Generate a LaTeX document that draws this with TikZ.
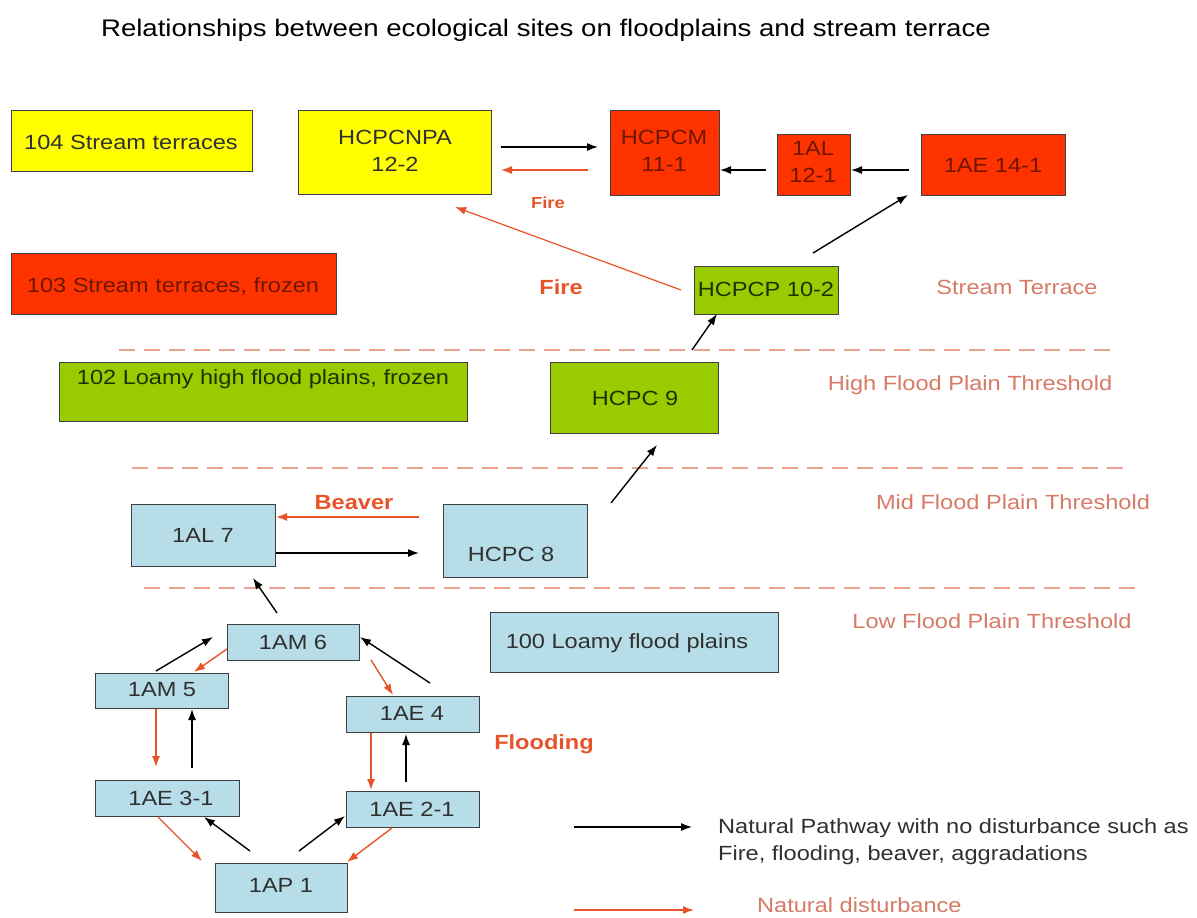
\documentclass[tikz,border=0pt]{standalone}
\usepackage{fontspec}
\setmainfont{Liberation Sans}[FakeStretch=1.15]
\usetikzlibrary{arrows.meta}
\definecolor{cyel}{HTML}{FFFF00}
\definecolor{cred}{HTML}{FF3300}
\definecolor{cgrn}{HTML}{99CC00}
\definecolor{cblu}{HTML}{B7DDE8}
\definecolor{boxline}{HTML}{3F3F3F}
\definecolor{arrred}{HTML}{E8542A}
\definecolor{salmon}{HTML}{EBA291}
\definecolor{thtxt}{HTML}{D77A66}
\definecolor{redtxt}{HTML}{6E1600}
\definecolor{grntxt}{HTML}{1E3200}
\definecolor{dtxt}{HTML}{303030}
\begin{document}
\begin{tikzpicture}[x=1pt,y=-1pt,
  box/.style={draw=boxline, line width=1.3pt, inner sep=0pt, anchor=north west},
  txt/.style={font=\fontsize{20.5}{25}\selectfont, inner sep=0pt, text height=14.6pt, text depth=0pt},
  txtii/.style={font=\fontsize{20.5}{26.5}\selectfont, inner sep=0pt, align=center},
  thr/.style={txt, text=thtxt},
  lbl/.style={font=\bfseries\fontsize{20.5}{25}\selectfont, inner sep=0pt, text height=14.6pt, text depth=0pt, text=arrred},
  blk/.style={draw=black, line width=1.4pt, -{Latex[length=11pt,width=8pt]}},
  rd/.style={draw=arrred, line width=1.4pt, -{Latex[length=11pt,width=8pt]}},
  thline/.style={draw=salmon, line width=2.2pt, dash pattern=on 16pt off 9pt}
]
\useasboundingbox (0,0) rectangle (1197,918);
\fill[white] (0,0) rectangle (1197,918);

% title
\node[txt, font=\fontsize{24}{28}\selectfont, text height=17pt] (title) at (546,28) {Relationships between ecological sites on floodplains and stream terrace};

% dashed thresholds
\coordinate (d1a) at (119,350); \coordinate (d1b) at (1112,350);
\coordinate (d2a) at (132,468); \coordinate (d2b) at (1126,468);
\coordinate (d3a) at (144,588); \coordinate (d3b) at (1137,588);
\draw[thline] (d1a) -- (d1b);
\draw[thline] (d2a) -- (d2b);
\draw[thline] (d3a) -- (d3b);

% boxes
\node[box, fill=cyel, minimum width=241pt, minimum height=61pt] (b104) at (11,110) {};
\node[box, fill=cyel, minimum width=193pt, minimum height=84pt] (cnpa) at (298,110) {};
\node[box, fill=cred, minimum width=109pt, minimum height=85pt] (cm) at (610,110) {};
\node[box, fill=cred, minimum width=73pt, minimum height=61pt] (al12) at (777,134) {};
\node[box, fill=cred, minimum width=144pt, minimum height=61pt] (ae14) at (921,134) {};
\node[box, fill=cred, minimum width=325pt, minimum height=61pt] (b103) at (11,253) {};
\node[box, fill=cgrn, minimum width=144pt, minimum height=48pt] (cp) at (694,266) {};
\node[box, fill=cgrn, minimum width=408pt, minimum height=59pt] (b102) at (59,362) {};
\node[box, fill=cgrn, minimum width=168pt, minimum height=71pt] (c9) at (550,362) {};
\node[box, fill=cblu, minimum width=144pt, minimum height=62pt] (al7) at (131,504) {};
\node[box, fill=cblu, minimum width=144pt, minimum height=73pt] (c8) at (443,504) {};
\node[box, fill=cblu, minimum width=288pt, minimum height=60pt] (b100) at (490,612) {};
\node[box, fill=cblu, minimum width=132pt, minimum height=36pt] (am6) at (227,624) {};
\node[box, fill=cblu, minimum width=133pt, minimum height=35pt] (am5) at (95,673) {};
\node[box, fill=cblu, minimum width=133pt, minimum height=36pt] (ae4) at (346,696) {};
\node[box, fill=cblu, minimum width=144pt, minimum height=36pt] (ae31) at (95,780) {};
\node[box, fill=cblu, minimum width=133pt, minimum height=36pt] (ae21) at (346,791) {};
\node[box, fill=cblu, minimum width=132pt, minimum height=49pt] (ap1) at (215,863) {};

% box texts
\node[txt, text=dtxt] (t104) at (131,142) {104 Stream terraces};
\node[txtii, text=dtxt] (tcnpa) at (395,151) {HCPCNPA\\12-2};
\node[txtii, text=redtxt] (tcm) at (664,151) {HCPCM\\11-1};
\node[txtii, text=redtxt] (tal12) at (813,162) {1AL\\12-1};
\node[txt, text=redtxt] (tae14) at (993,165) {1AE 14-1};
\node[txt, text=redtxt] (t103) at (173,285) {103 Stream terraces, frozen};
\node[txt, text=grntxt] (tcp) at (766,289) {HCPCP 10-2};
\node[txt, text=grntxt] (t102) at (263,377) {102 Loamy high flood plains, frozen};
\node[txt, text=grntxt] (tc9) at (635,398) {HCPC 9};
\node[txt, text=dtxt] (tal7) at (203,535) {1AL 7};
\node[txt, text=dtxt] (tc8) at (511,554) {HCPC 8};
\node[txt, text=dtxt] (t100) at (627,641) {100 Loamy flood plains};
\node[txt, text=dtxt] (tam6) at (293,642) {1AM 6};
\node[txt, text=dtxt] (tam5) at (162,689) {1AM 5};
\node[txt, text=dtxt] (tae4) at (412,713) {1AE 4};
\node[txt, text=dtxt] (tae31) at (171,798) {1AE 3-1};
\node[txt, text=dtxt] (tae21) at (412,809) {1AE 2-1};
\node[txt, text=dtxt] (tap1) at (281,885) {1AP 1};

% labels
\node[lbl, font=\bfseries\fontsize{16}{20}\selectfont, text height=11.5pt] (fire1) at (548,203) {Fire};
\node[lbl] (fire2) at (561,287) {Fire};
\node[lbl] (beaver) at (354,502) {Beaver};
\node[lbl] (flood) at (544,742) {Flooding};
\node[thr] (lst) at (1017,287) {Stream Terrace};
\node[thr] (lhi) at (970,383) {High Flood Plain Threshold};
\node[thr] (lmid) at (1013,502) {Mid Flood Plain Threshold};
\node[thr] (llow) at (992,621) {Low Flood Plain Threshold};

% arrow end points
\coordinate (a1s) at (501,147); \coordinate (a1e) at (598,147);
\coordinate (a2s) at (588,170); \coordinate (a2e) at (501,170);
\coordinate (a3s) at (766,170); \coordinate (a3e) at (720,170);
\coordinate (a4s) at (909,170); \coordinate (a4e) at (851,170);
\coordinate (a5s) at (813,253); \coordinate (a5e) at (908,195);
\coordinate (a6s) at (681,290); \coordinate (a6e) at (455,207);
\coordinate (a7s) at (692,350); \coordinate (a7e) at (717,314);
\coordinate (a8s) at (611,503); \coordinate (a8e) at (657,445);
\coordinate (a9s) at (276,553); \coordinate (a9e) at (419,553);
\coordinate (a10s) at (419,517); \coordinate (a10e) at (276,517);
\coordinate (a11s) at (277,613); \coordinate (a11e) at (253,578);
\coordinate (a12s) at (156,671); \coordinate (a12e) at (213,637);
\coordinate (a13s) at (227,649); \coordinate (a13e) at (194,672);
\coordinate (a14s) at (371,660); \coordinate (a14e) at (393,695);
\coordinate (a15s) at (430,683); \coordinate (a15e) at (360,637);
\coordinate (a16s) at (156,709); \coordinate (a16e) at (156,767);
\coordinate (a17s) at (192,768); \coordinate (a17e) at (192,709);
\coordinate (a18s) at (371,733); \coordinate (a18e) at (371,790);
\coordinate (a19s) at (406,782); \coordinate (a19e) at (406,734);
\coordinate (a20s) at (158,817); \coordinate (a20e) at (202,861);
\coordinate (a21s) at (250,851); \coordinate (a21e) at (204,817);
\coordinate (a22s) at (299,851); \coordinate (a22e) at (345,816);
\coordinate (a23s) at (392,828); \coordinate (a23e) at (347,862);

\draw[blk] (a1s) -- (a1e);
\draw[rd] (a2s) -- (a2e);
\draw[blk] (a3s) -- (a3e);
\draw[blk] (a4s) -- (a4e);
\draw[blk] (a5s) -- (a5e);
\draw[rd, line width=1.2pt] (a6s) -- (a6e);
\draw[blk] (a7s) -- (a7e);
\draw[blk] (a8s) -- (a8e);
\draw[blk] (a9s) -- (a9e);
\draw[rd] (a10s) -- (a10e);
\draw[blk] (a11s) -- (a11e);
\draw[blk] (a12s) -- (a12e);
\draw[rd] (a13s) -- (a13e);
\draw[rd] (a14s) -- (a14e);
\draw[blk] (a15s) -- (a15e);
\draw[rd] (a16s) -- (a16e);
\draw[blk] (a17s) -- (a17e);
\draw[rd] (a18s) -- (a18e);
\draw[blk] (a19s) -- (a19e);
\draw[rd] (a20s) -- (a20e);
\draw[blk] (a21s) -- (a21e);
\draw[blk] (a22s) -- (a22e);
\draw[rd] (a23s) -- (a23e);

% legend
\coordinate (lg1s) at (574,827); \coordinate (lg1e) at (692,827);
\coordinate (lg2s) at (574,910); \coordinate (lg2e) at (694,910);
\draw[blk] (lg1s) -- (lg1e);
\draw[rd] (lg2s) -- (lg2e);
\node[txt, text=dtxt, anchor=west] (lgt1) at (718,826) {Natural Pathway with no disturbance such as};
\node[txt, text=dtxt, anchor=west] (lgt2) at (718,853) {Fire, flooding, beaver, aggradations};
\node[thr, anchor=west] (lgt3) at (757,905) {Natural disturbance};
\end{tikzpicture}
\end{document}
